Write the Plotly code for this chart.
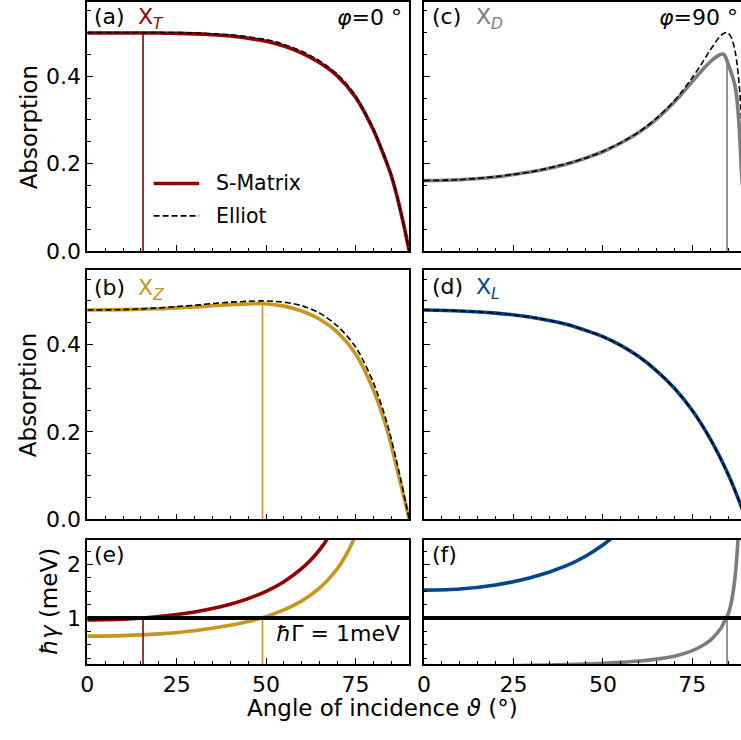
import plotly.graph_objects as go

W, H = 741, 740

# ---------------- data ----------------
# (a) X_T, phi = 0 deg
theta_a = [0, 10, 20, 25, 30, 35, 40, 45, 50, 55, 60, 65, 70, 75, 80, 83, 85, 87, 88, 89, 90]
smat_T = [0.499, 0.499, 0.499, 0.498, 0.497, 0.495, 0.492, 0.487, 0.480, 0.469, 0.453, 0.431,
          0.400, 0.352, 0.277, 0.217, 0.172, 0.112, 0.077, 0.040, 0.0]
elliot_T = [0.500, 0.500, 0.500, 0.500, 0.499, 0.497, 0.495, 0.490, 0.484, 0.473, 0.457, 0.435,
            0.404, 0.356, 0.281, 0.220, 0.175, 0.114, 0.078, 0.040, 0.0]

# (b) X_Z
theta_b = [0, 10, 20, 25, 30, 35, 40, 45, 49, 55, 60, 65, 70, 75, 80, 84, 87, 89, 90]
smat_Z = [0.479, 0.480, 0.482, 0.484, 0.486, 0.489, 0.491, 0.493, 0.494, 0.488, 0.477, 0.458,
          0.428, 0.379, 0.296, 0.200, 0.102, 0.035, 0.0]
elliot_Z = [0.479, 0.480, 0.484, 0.487, 0.490, 0.494, 0.497, 0.499, 0.500, 0.497, 0.489, 0.472,
            0.442, 0.395, 0.313, 0.215, 0.115, 0.040, 0.0]

# (c) X_D, phi = 90 deg
theta_c = [0, 10, 20, 25, 30, 40, 45, 50, 55, 60, 65, 70, 72, 75, 77, 78, 80, 81, 82, 83,
           83.5, 84, 84.5, 85, 86, 87, 87.5, 88, 88.3, 88.6, 89]
smat_D = [0.161, 0.163, 0.169, 0.175, 0.181, 0.199, 0.212, 0.227, 0.247, 0.271, 0.302, 0.341,
          0.359, 0.388, 0.407, 0.416, 0.433, 0.440, 0.446, 0.450, 0.451, 0.448, 0.440, 0.428,
          0.405, 0.375, 0.345, 0.295, 0.255, 0.200, 0.150]
elliot_D = [0.161, 0.163, 0.170, 0.175, 0.181, 0.200, 0.212, 0.228, 0.248, 0.272, 0.304, 0.344,
            0.364, 0.397, 0.421, 0.434, 0.460, 0.472, 0.484, 0.493, 0.497, 0.499, 0.500, 0.499,
            0.487, 0.455, 0.428, 0.389, 0.360, 0.322, 0.260]

# (d) X_L
theta_d = [0, 10, 20, 30, 40, 45, 50, 55, 60, 65, 70, 75, 80, 85, 88.6, 89, 90]
smat_L = [0.479, 0.477, 0.472, 0.4625, 0.446, 0.433, 0.418, 0.398, 0.3725, 0.340, 0.300, 0.249,
          0.184, 0.103, 0.031, 0.022, 0.0]
elliot_L = [0.479, 0.477, 0.472, 0.4625, 0.446, 0.433, 0.418, 0.398, 0.3725, 0.340, 0.300, 0.249,
            0.184, 0.103, 0.031, 0.022, 0.0]

# (e) radiative widths hbar*gamma (meV)
theta_eT = [0, 10, 15.6, 20, 25, 30, 35, 40, 45, 50, 55, 60, 62, 64, 66, 68]
gamma_T = [0.963, 0.978, 1.0, 1.025, 1.063, 1.112, 1.176, 1.257, 1.362, 1.498, 1.679, 1.926,
           2.051, 2.197, 2.368, 2.571]
theta_eZ = [0, 10, 20, 30, 40, 45, 49, 55, 60, 65, 70, 72, 74, 76]
gamma_Z = [0.660, 0.670, 0.702, 0.762, 0.862, 0.933, 1.006, 1.151, 1.320, 1.562, 1.930, 2.136,
           2.394, 2.723]

# (f)
theta_fL = [0, 10, 20, 30, 40, 45, 50, 52, 54]
gamma_L = [1.52, 1.543, 1.618, 1.755, 1.984, 2.150, 2.365, 2.469, 2.586]
theta_fD = [0, 20, 30, 40, 45, 50, 55, 60, 65, 70, 75, 78, 80, 82, 83, 84, 85, 86, 87, 87.5, 88, 88.5]
gamma_D = [0.097, 0.103, 0.112, 0.127, 0.137, 0.151, 0.169, 0.194, 0.230, 0.284, 0.390, 0.490,
           0.580, 0.720, 0.810, 0.940, 1.070, 1.330, 1.800, 2.200, 2.750, 3.700]

hbar_Gamma = 1.0
gamma_line_x = [0, 90]

# crossing angles (gamma = Gamma) and absorption there
theta_T, peak_T = 15.6, 0.499
theta_Z, peak_Z = 49.0, 0.494
theta_D, peak_D = 84.7, 0.436

# ---------------- styling ----------------
C_T = "#930000"
C_Z = "#c8961e"
C_D = "#7c7c7c"
C_L = "#00468b"
FONT = "DejaVu Sans"
LW = 3.6

fig = go.Figure()


def add(x, y, ax, color, width=LW, dash=None, spline=True):
    fig.add_trace(go.Scatter(
        x=x, y=y, mode="lines", xaxis="x" + ax, yaxis="y" + ax, showlegend=False,
        line=dict(color=color, width=width, dash=dash, shape="spline" if spline else "linear",
                  smoothing=0.8),
        hoverinfo="skip"))


DASH = "6px,3px"
# (a)
add(theta_a, smat_T, "1", C_T)
add([theta_T, theta_T], [0, peak_T], "1", C_T, width=1.6, spline=False)
add(theta_a, elliot_T, "1", "black", width=1.6, dash=DASH)
# (c)
add([theta_D, theta_D], [0, peak_D], "2", C_D, width=1.6, spline=False)
add(theta_c, smat_D, "2", C_D)
add(theta_c, elliot_D, "2", "black", width=1.6, dash=DASH)
# (b)
add(theta_b, smat_Z, "3", C_Z)
add([theta_Z, theta_Z], [0, peak_Z], "3", C_Z, width=1.6, spline=False)
add(theta_b, elliot_Z, "3", "black", width=1.6, dash=DASH)
# (d)
add(theta_d, smat_L, "4", C_L)
add(theta_d, elliot_L, "4", "black", width=1.6, dash=DASH)
# (e)
add(theta_eT, gamma_T, "5", C_T)
add(theta_eZ, gamma_Z, "5", C_Z)
add([theta_T, theta_T], [0, hbar_Gamma], "5", C_T, width=1.6, spline=False)
add([theta_Z, theta_Z], [0, hbar_Gamma], "5", C_Z, width=1.6, spline=False)
add(gamma_line_x, [hbar_Gamma, hbar_Gamma], "5", "black", width=4, spline=False)
# (f)
add(theta_fL, gamma_L, "6", C_L)
add(theta_fD, gamma_D, "6", C_D)
add([theta_D, theta_D], [0, hbar_Gamma], "6", C_D, width=1.6, spline=False)
add(gamma_line_x, [hbar_Gamma, hbar_Gamma], "6", "black", width=4, spline=False)


def px(x):
    return x / W


def py(y):
    return 1 - y / H


XL = [px(81), px(406)]
XR = [px(421), 1.0]
R1 = [py(254.7), py(1.0)]
R2 = [py(528.3), py(274.5)]
R3 = [py(675.7), py(549.3)]

tickfont = dict(family=FONT, size=22, color="black")


def axis(domain, rng, dtick, mdtick, labels, mirror, anchor, fmt=None):
    d = dict(domain=domain, range=rng, showline=True, linecolor="black", linewidth=1.6,
             mirror=mirror, ticks="inside", ticklen=6, tickwidth=1.3, tickcolor="black",
             tick0=0, dtick=dtick, showticklabels=labels, showgrid=False, zeroline=False,
             tickfont=tickfont, anchor=anchor, fixedrange=True,
             minor=dict(dtick=mdtick, tick0=0, ticks="inside", ticklen=3.5, tickwidth=1,
                        tickcolor="black", showgrid=False))
    if fmt:
        d["tickformat"] = fmt
    return d


XR_RANGE = [0, 88.6]
layout = dict(
    width=W, height=H, margin=dict(l=0, r=0, t=0, b=0),
    paper_bgcolor="white", plot_bgcolor="white", showlegend=False,
    font=dict(family=FONT, color="black"),
    xaxis=axis(XL, [0, 90], 25, 5, False, True, "y"),
    yaxis=axis(R1, [0, 0.57], 0.2, 0.05, True, True, "x", ".1f"),
    xaxis2=axis(XR, XR_RANGE, 25, 5, False, True, "y2"),
    yaxis2=axis(R1, [0, 0.57], 0.2, 0.05, False, False, "x2"),
    xaxis3=axis(XL, [0, 90], 25, 5, False, True, "y3"),
    yaxis3=axis(R2, [0, 0.57], 0.2, 0.05, True, True, "x3", ".1f"),
    xaxis4=axis(XR, XR_RANGE, 25, 5, False, True, "y4"),
    yaxis4=axis(R2, [0, 0.57], 0.2, 0.05, False, False, "x4"),
    xaxis5=axis(XL, [0, 90], 25, 5, True, True, "y5"),
    yaxis5=axis(R3, [0.14, 2.46], 1, 0.25, True, True, "x5"),
    xaxis6=axis(XR, XR_RANGE, 25, 5, True, True, "y6"),
    yaxis6=axis(R3, [0.14, 2.46], 1, 0.25, False, False, "x6"),
)
fig.update_layout(**layout)


def note(text, x, y, size=22, color="black", xanchor="left", angle=0):
    fig.add_annotation(text=text, x=px(x), y=py(y), xref="paper", yref="paper",
                       xanchor=xanchor, yanchor="middle", showarrow=False, textangle=angle,
                       font=dict(family=FONT, size=size, color=color))


# panel labels
note("(a)", 86, 16)
note("X<sub><i>T</i></sub>", 130, 18, color=C_T)
note("(c)", 427, 16)
note("X<sub><i>D</i></sub>", 471, 18, color=C_D)
note("(b)", 86, 292)
note("X<sub><i>Z</i></sub>", 130, 294, color=C_Z)
note("(d)", 427, 291)
note("X<sub><i>L</i></sub>", 471, 293, color=C_L)
note("(e)", 86, 564)
note("(f)", 427, 564)
note("<i>φ</i>=0 °", 401, 17, xanchor="right")
note("<i>φ</i>=90 °", 740, 17, xanchor="right")
note("<i>ħ</i>Γ = 1meV", 399, 645, xanchor="right")

# axis titles
note("Absorption", 22, 128, size=23, xanchor="center", angle=-90)
note("Absorption", 22, 401, size=23, xanchor="center", angle=-90)
note("<i>ħγ</i> (meV)", 43, 612, size=23, xanchor="center", angle=-90)
note("Angle of incidence <i>ϑ</i> (°)", 379, 721, size=23, xanchor="center")

# legend (panel a)
fig.add_shape(type="line", xref="paper", yref="paper", x0=px(148), x1=px(194), y0=py(186), y1=py(186),
              line=dict(color=C_T, width=LW))
fig.add_shape(type="line", xref="paper", yref="paper", x0=px(148), x1=px(194), y0=py(219), y1=py(219),
              line=dict(color="black", width=1.6, dash=DASH))
note("S-Matrix", 209, 186, size=20.5)
note("Elliot", 209, 219, size=20.5)

fig.write_html("out.html")
